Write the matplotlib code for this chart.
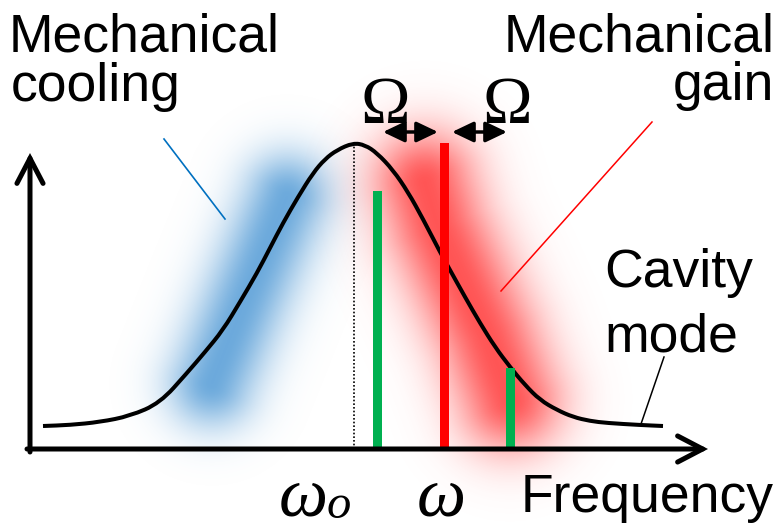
import numpy as np
import matplotlib
matplotlib.use("Agg")
import matplotlib.pyplot as plt
from matplotlib.path import Path
from matplotlib.patches import PathPatch, FancyArrowPatch, ArrowStyle

# Cavity mode line shape: frequency position and height above the frequency axis
mode_freq = [43, 70, 100, 130, 160, 187, 205, 223, 240, 257, 270, 283, 298,
             313, 325, 337, 353, 365, 377, 393, 408, 423, 440, 450, 465, 480,
             495, 510, 525, 540, 557, 573, 590, 607, 640, 663]
mode_height = [23, 24, 27, 33, 46, 76, 97, 119, 147, 176, 201, 226, 252,
               276, 290, 299, 306, 304, 296, 279, 257, 230, 197, 179, 152, 126,
               102, 82, 64, 49, 39, 32, 28, 26, 24, 23]
cavity_center = 354
cavity_peak = 306

# Pump tone and the two mechanical sidebands (frequency, strength)
pump_freq = [444.5]
pump_height = [306]
sideband_freq = [377.5, 510.5]
sideband_height = [258, 81]

# Shaded regions: centre lines of the cooling (blue) and gain (red) glows
cooling_path = [(287, 252), (245, 149), (212, 66)]
gain_path = [(425, 266), (438, 222), (487, 114), (510, 50)]

W, H = 776, 529
AXIS_Y = 449  # pixel row of the frequency axis

fig = plt.figure(figsize=(W / 100, H / 100), dpi=100)
ax = fig.add_axes([0, 0, 1, 1])
ax.set_xlim(0, W)
ax.set_ylim(AXIS_Y - H, AXIS_Y)
ax.axis("off")


def glow(points, sigma, color, peak=1.0):
    xs = np.arange(W) + 0.5
    ys = AXIS_Y - (np.arange(H) + 0.5)
    X, Y = np.meshgrid(xs, ys)
    d2 = np.full(X.shape, np.inf)
    for (x0, y0), (x1, y1) in zip(points[:-1], points[1:]):
        vx, vy = x1 - x0, y1 - y0
        t = np.clip(((X - x0) * vx + (Y - y0) * vy) / (vx * vx + vy * vy), 0, 1)
        d2 = np.minimum(d2, (X - x0 - t * vx) ** 2 + (Y - y0 - t * vy) ** 2)
    rgba = np.zeros(X.shape + (4,))
    rgba[..., :3] = color
    rgba[..., 3] = peak * np.exp(-d2 / (2 * sigma ** 2))
    ax.imshow(rgba, extent=(0, W, AXIS_Y - H, AXIS_Y), origin="upper",
              interpolation="bilinear", aspect="auto", zorder=1)


glow(cooling_path, 31, (100 / 255, 165 / 255, 218 / 255), peak=0.95)
glow(gain_path, 37, (1.0, 0.30, 0.30), peak=0.95)

# Smooth cavity curve: quadratic segments through the midpoints
pts = np.column_stack([mode_freq, mode_height]).astype(float)
verts = [pts[0], (pts[0] + pts[1]) / 2]
codes = [Path.MOVETO, Path.LINETO]
for i in range(1, len(pts) - 1):
    verts += [pts[i], (pts[i] + pts[i + 1]) / 2]
    codes += [Path.CURVE3, Path.CURVE3]
verts.append(pts[-1])
codes.append(Path.LINETO)
ax.add_patch(PathPatch(Path(verts, codes), fill=False, lw=2.9, ec="black",
                       capstyle="butt", zorder=3))

# Cavity resonance marker
ax.plot([cavity_center, cavity_center], [0, cavity_peak], color="black",
        lw=1.2, ls=(0, (1, 1.2)), zorder=2)

# Pump and sidebands
ax.bar(sideband_freq, sideband_height, width=9, color="#00B050", zorder=4)
ax.bar(pump_freq, pump_height, width=9, color="#FF0000", zorder=4)

# Axes as arrows
axis_style = ArrowStyle("->", head_length=0.9, head_width=0.47)
for a, b in [((30, -3), (30, 296)), ((27, 0), (708, 0))]:
    ax.add_patch(FancyArrowPatch(a, b, arrowstyle=axis_style, mutation_scale=20,
                                 lw=3.6, color="black", shrinkA=0, shrinkB=0,
                                 capstyle="round", joinstyle="miter", zorder=5))

# Sideband spacing arrows
omega_style = ArrowStyle("<|-|>", head_length=0.65, head_width=0.31)
for a, b in [((383, 317), (438, 317)), ((452, 317), (507, 317))]:
    ax.add_patch(FancyArrowPatch(a, b, arrowstyle=omega_style, mutation_scale=20,
                                 lw=2.5, color="black", shrinkA=0, shrinkB=0,
                                 zorder=5))

serif = "Liberation Serif"
sans = "Liberation Sans"
for x in (385, 507):
    ax.text(x, AXIS_Y - 123, "Ω", family=serif, fontsize=48, ha="center",
            va="baseline", zorder=6)

ax.text(303, AXIS_Y - 515, "ω", family=serif, style="italic", fontsize=50,
        ha="center", va="baseline")
ax.text(327, AXIS_Y - 518, "o", family=serif, style="italic", fontsize=35,
        ha="left", va="baseline")
ax.text(441, AXIS_Y - 515, "ω", family=serif, style="italic", fontsize=50,
        ha="center", va="baseline")

fs = 38.5
ax.text(9, AXIS_Y - 52, "Mechanical", family=sans, fontsize=fs, va="baseline")
ax.text(11, AXIS_Y - 101, "cooling", family=sans, fontsize=fs, va="baseline")
ax.text(775, AXIS_Y - 52, "Mechanical", family=sans, fontsize=fs, va="baseline",
        ha="right")
ax.text(774, AXIS_Y - 100, "gain", family=sans, fontsize=fs, va="baseline",
        ha="right")
ax.text(604, AXIS_Y - 287, "Cavity", family=sans, fontsize=fs, va="baseline")
ax.text(604, AXIS_Y - 352, "mode", family=sans, fontsize=fs, va="baseline")
ax.text(521, AXIS_Y - 512, "Frequency", family=sans, fontsize=fs, va="baseline")

# Leader lines
ax.plot([164, 225], [AXIS_Y - 139, AXIS_Y - 219], color="#0070C0", lw=1.2, zorder=5)
ax.plot([652, 501], [AXIS_Y - 122, AXIS_Y - 291], color="#FF0000", lw=1.1, zorder=5)
ax.plot([664, 641], [AXIS_Y - 357, AXIS_Y - 424], color="black", lw=1.1, zorder=5)

fig.savefig("out.png", dpi=100)
